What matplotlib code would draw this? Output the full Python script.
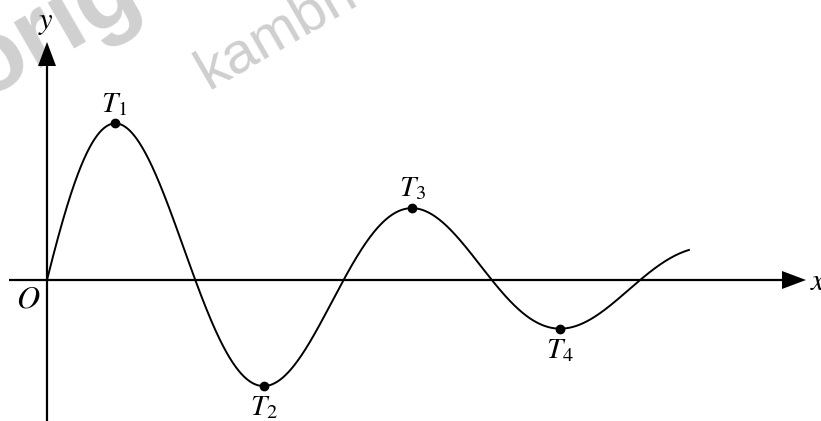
import numpy as np
import matplotlib
matplotlib.use("Agg")
import matplotlib.pyplot as plt
from matplotlib.patches import Polygon

plt.rcParams['mathtext.fontset'] = 'stix'
plt.rcParams['font.family'] = ['Liberation Serif', 'DejaVu Serif']

# ---- data ----
AMPLITUDE = 4.0        # y = A * exp(-k t) * sin(t)
DECAY = 0.124
T_END = 13.6
point_labels = ['$T_1$', '$T_2$', '$T_3$', '$T_4$']
# label offsets in pixels (dx, dy of baseline relative to point)
label_offsets = [(-1, 11), (0, -29), (1, 12), (0, -29)]

# ---- layout ----
W, H, DPI = 821, 421, 100
PX = 47.2              # pixels per unit
OX, OY = 47, 280       # origin in pixels (from top-left)

fig = plt.figure(figsize=(W / DPI, H / DPI), dpi=DPI)
ax = fig.add_axes([0, 0, 1, 1])
ax.set_xlim(-OX / PX, (W - OX) / PX)
ax.set_ylim(-(H - OY) / PX, OY / PX)
ax.axis('off')

def px2x(p):
    return (p - OX) / PX

def px2y(p):
    return (OY - p) / PX

# watermarks
ax.text(px2x(208), px2y(90), 'kambri', fontsize=42, color='#cfcfcf',
        rotation=30, family='Liberation Sans', ha='left', va='baseline',
        rotation_mode='anchor', zorder=0)
ax.text(px2x(-18), px2y(100), 'orig', fontsize=72, color='#d0d0d0',
        rotation=30, family='Liberation Sans', fontweight='bold',
        ha='left', va='baseline', rotation_mode='anchor', zorder=0)

# axes lines with arrowheads
lw_axis = 1.6
x_start, x_tip = px2x(9), px2x(806)
y_start, y_tip = px2y(421), px2y(42)
head_len, head_half = 24 / PX, 9 / PX
ax.plot([x_start, x_tip - head_len], [0, 0], color='k', lw=lw_axis, solid_capstyle='butt')
ax.plot([0, 0], [y_start, y_tip - head_len], color='k', lw=lw_axis, solid_capstyle='butt')
ax.add_patch(Polygon([[x_tip, 0], [x_tip - head_len, head_half], [x_tip - head_len, -head_half]],
                     closed=True, color='k', lw=0))
ax.add_patch(Polygon([[0, y_tip], [head_half, y_tip - head_len], [-head_half, y_tip - head_len]],
                     closed=True, color='k', lw=0))

# curve
t = np.linspace(0, T_END, 1500)
y = AMPLITUDE * np.exp(-DECAY * t) * np.sin(t)
ax.plot(t, y, color='k', lw=1.4)

# turning points
t_peaks = np.arctan(1 / DECAY) + np.pi * np.arange(4)
y_peaks = AMPLITUDE * np.exp(-DECAY * t_peaks) * np.sin(t_peaks)
ax.plot(t_peaks, y_peaks, 'o', color='k', ms=6)
for tp, yp, lab, (dx, dy) in zip(t_peaks, y_peaks, point_labels, label_offsets):
    ax.text(tp + dx / PX, yp + dy / PX, lab, fontsize=21, ha='center', va='baseline')

# axis labels
ax.text(px2x(810), px2y(290), r'$x$', fontsize=22, ha='left', va='baseline')
ax.text(px2x(46), px2y(29), r'$y$', fontsize=22, ha='center', va='baseline')
ax.text(px2x(28.5), px2y(307), r'$O$', fontsize=23, ha='center', va='baseline')

fig.savefig('out.png', dpi=DPI)
